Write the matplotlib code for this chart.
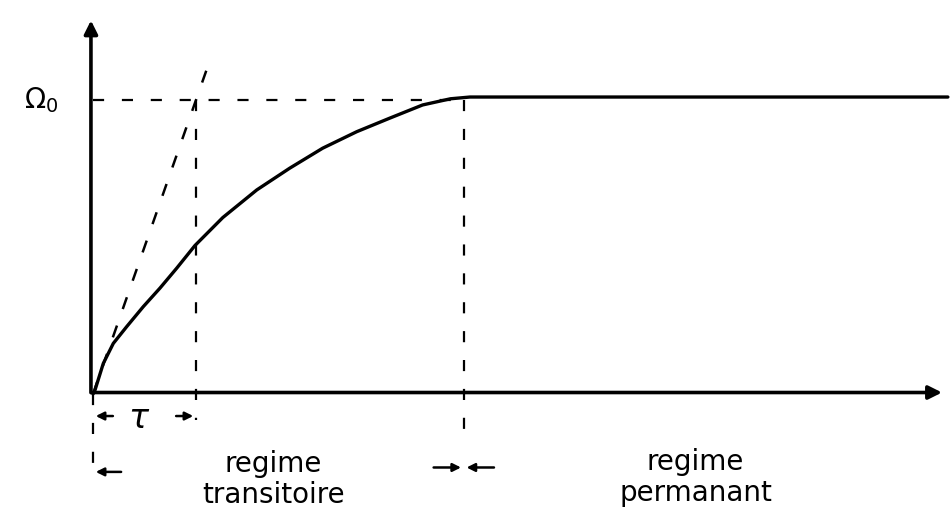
import numpy as np
import matplotlib.pyplot as plt

# values (t in units of tau, response in units of Omega0)
t_curve = [0, 0.02, 0.10, 0.197, 0.327, 0.488, 0.65, 0.813, 0.99, 1.26, 1.59,
           1.91, 2.23, 2.56, 2.88, 3.20, 3.47, 3.66, 8.3]
w_curve = [0, 0.014, 0.104, 0.172, 0.229, 0.297, 0.36, 0.428, 0.505, 0.60,
           0.694, 0.768, 0.836, 0.892, 0.938, 0.983, 1.004, 1.01, 1.01]
tau = 1.0
t_steady = 3.6
omega0 = 1.0
t_tangent = [0, 1.15]
labels = ["regime\ntransitoire", "regime\npermanant"]

fig = plt.figure(figsize=(9.52, 5.11), dpi=100)
ax = fig.add_axes([0, 0, 1, 1])
ax.set_xlim(-0.903, 8.34)
ax.set_ylim(-0.398, 1.34)
ax.axis("off")

lw_ax = 2.6
ar = dict(arrowstyle="-|>", lw=lw_ax, color="black", mutation_scale=20)
# axes
ax.annotate("", xy=(-0.02, 1.28), xytext=(-0.02, -0.005), arrowprops=ar)
ax.annotate("", xy=(8.27, 0.005), xytext=(-0.03, 0.005), arrowprops=ar)

# response curve
ax.plot(t_curve, w_curve, color="black", lw=2.4, solid_capstyle="round",
        solid_joinstyle="round")

# tangent at the origin
ax.plot(t_tangent, [omega0 * x / tau for x in t_tangent], color="black",
        lw=1.8, ls=(0, (5, 7)))

# guide lines
dash = dict(color="black", lw=1.6, ls=(0, (5, 8)))
ax.plot([0, t_steady], [omega0, omega0], **dash)
ax.plot([tau, tau], [omega0, -0.09], **dash)
ax.plot([t_steady, t_steady], [omega0, -0.17], **dash)
ax.plot([0, 0], [0, -0.27], **dash)

ax.text(-0.5, omega0, r"$\Omega_0$", fontsize=20, ha="center", va="center")

# tau marks
sm = dict(arrowstyle="-|>", lw=1.8, color="black", mutation_scale=12)
ax.annotate("", xy=(0, -0.075), xytext=(0.22, -0.075), arrowprops=sm)
ax.annotate("", xy=(tau, -0.075), xytext=(0.78, -0.075), arrowprops=sm)
ax.text(0.45, -0.085, r"$\tau$", fontsize=24, ha="center", va="center")

# regime marks
ax.annotate("", xy=(0, -0.265), xytext=(0.3, -0.265), arrowprops=sm)
ax.annotate("", xy=(t_steady, -0.25), xytext=(t_steady - 0.32, -0.25), arrowprops=sm)
ax.annotate("", xy=(t_steady, -0.25), xytext=(t_steady + 0.32, -0.25), arrowprops=sm)

ax.text(1.75, -0.29, labels[0], fontsize=20, ha="center", va="center",
        linespacing=1.15)
ax.text(5.85, -0.285, labels[1], fontsize=20, ha="center", va="center",
        linespacing=1.15)

fig.savefig("out.png", dpi=100)
